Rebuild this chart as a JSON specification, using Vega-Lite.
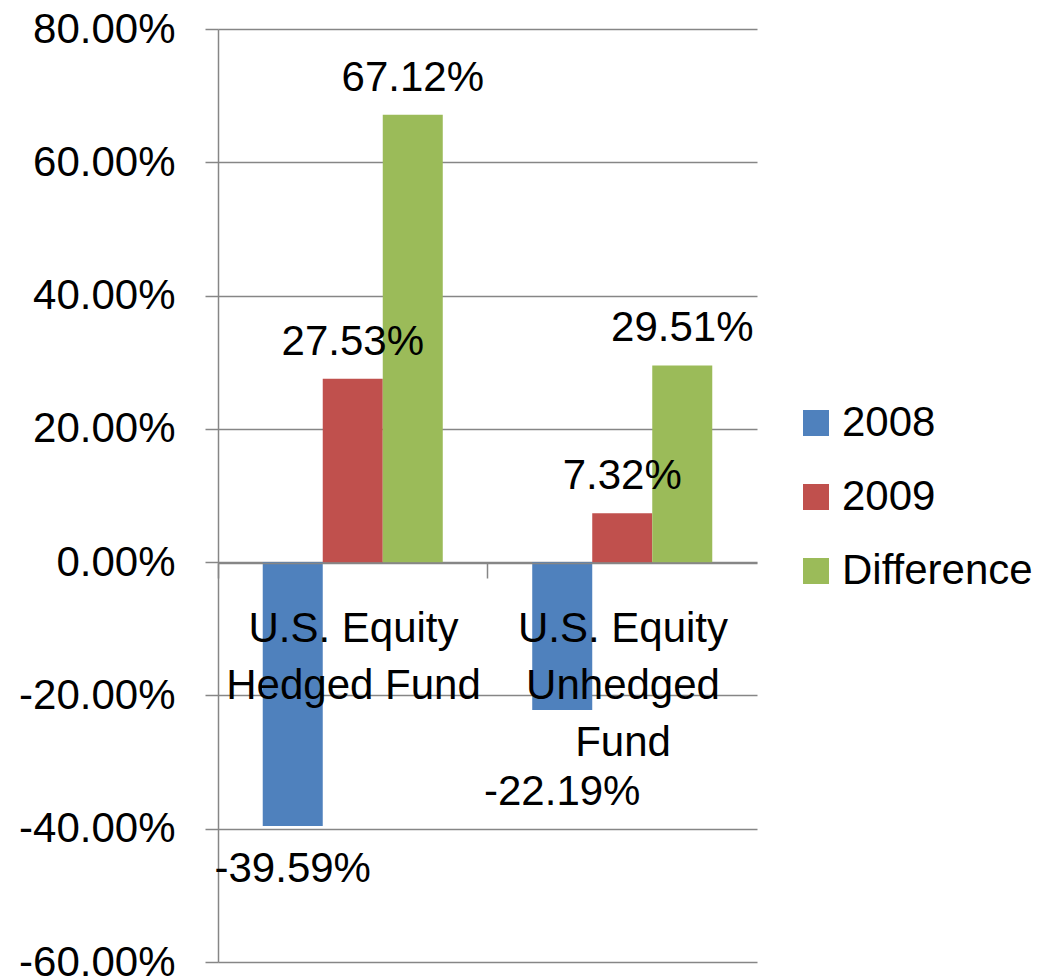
{
  "$schema": "https://vega.github.io/schema/vega-lite/v6.json",
  "width": 539,
  "height": 933,
  "autosize": {"type": "none"},
  "padding": {"left": 218, "top": 29, "right": 300, "bottom": 17},
  "background": "white",
  "config": {"view": {"stroke": null}, "font": "Liberation Sans"},
  "data": {
    "values": [
      {"fund": "U.S. Equity Hedged Fund", "series": "2008", "value": -0.3959},
      {"fund": "U.S. Equity Hedged Fund", "series": "2009", "value": 0.2753},
      {"fund": "U.S. Equity Hedged Fund", "series": "Difference", "value": 0.6712},
      {"fund": "U.S. Equity Unhedged Fund", "series": "2008", "value": -0.2219},
      {"fund": "U.S. Equity Unhedged Fund", "series": "2009", "value": 0.0732},
      {"fund": "U.S. Equity Unhedged Fund", "series": "Difference", "value": 0.2951}
    ]
  },
  "transform": [
    {"calculate": "replace(format(datum.value, '.2%'), '\u2212', '-')", "as": "valueLabel"}
  ],
  "encoding": {
    "x": {
      "field": "fund",
      "type": "nominal",
      "sort": ["U.S. Equity Hedged Fund", "U.S. Equity Unhedged Fund"],
      "scale": {"paddingInner": 0.332, "paddingOuter": 0.166},
      "axis": {
        "title": null,
        "orient": "bottom",
        "offset": -399,
        "zindex": 1,
        "bandPosition": 0,
        "tickOffset": -44.75,
        "labelOffset": 45,
        "tickSize": 15,
        "tickColor": "#868686",
        "tickWidth": 1.5,
        "domainColor": "#868686",
        "domainWidth": 1.5,
        "labelAngle": 0,
        "labelFontSize": 42,
        "labelColor": "#000000",
        "labelLineHeight": 57,
        "labelBaseline": "top",
        "labelPadding": 30,
        "labelLimit": 0,
        "labelOverlap": false,
        "labelExpr": "datum.label == 'U.S. Equity Hedged Fund' ? ['U.S. Equity', 'Hedged Fund'] : ['U.S. Equity', 'Unhedged', 'Fund']"
      }
    },
    "xOffset": {
      "field": "series",
      "type": "nominal",
      "sort": ["2008", "2009", "Difference"],
      "scale": {"paddingInner": 0, "paddingOuter": 0}
    },
    "y": {
      "field": "value",
      "type": "quantitative",
      "scale": {"domain": [-0.6, 0.8], "nice": false},
      "axis": {
        "title": null,
        "values": [-0.6, -0.4, -0.2, 0, 0.2, 0.4, 0.6, 0.8],
        "format": ".2%",
        "labelExpr": "replace(datum.label, '\u2212', '-')",
        "labelFontSize": 42,
        "labelColor": "#000000",
        "labelPadding": 30,
        "tickSize": 13,
        "tickColor": "#868686",
        "tickWidth": 1.5,
        "domainColor": "#868686",
        "domainWidth": 1.5,
        "grid": true,
        "gridColor": "#868686",
        "gridWidth": 1.5
      }
    }
  },
  "layer": [
    {
      "mark": {"type": "bar"},
      "encoding": {
        "color": {
          "field": "series",
          "type": "nominal",
          "scale": {"domain": ["2008", "2009", "Difference"], "range": ["#4F81BD", "#C0504D", "#9BBB59"]},
          "legend": {
            "title": null,
            "orient": "none",
            "legendX": 577,
            "legendY": 373,
            "padding": 0,
            "symbolType": "square",
            "symbolSize": 676,
            "symbolStrokeWidth": 0,
            "labelFontSize": 42,
            "labelColor": "#000000",
            "labelOffset": 5,
            "rowPadding": 32,
            "labelLimit": 0
          }
        }
      }
    },
    {
      "transform": [{"filter": "datum.value >= 0"}],
      "mark": {"type": "text", "dy": -37, "fontSize": 42, "color": "#000000"},
      "encoding": {"text": {"field": "valueLabel", "type": "nominal"}}
    },
    {
      "transform": [{"filter": "datum.value < 0 && datum.fund == 'U.S. Equity Hedged Fund'"}],
      "mark": {"type": "text", "dy": 43, "fontSize": 42, "color": "#000000"},
      "encoding": {"text": {"field": "valueLabel", "type": "nominal"}}
    },
    {
      "transform": [{"filter": "datum.value < 0 && datum.fund == 'U.S. Equity Unhedged Fund'"}],
      "mark": {"type": "text", "dy": 82, "fontSize": 42, "color": "#000000"},
      "encoding": {"text": {"field": "valueLabel", "type": "nominal"}}
    }
  ]
}
